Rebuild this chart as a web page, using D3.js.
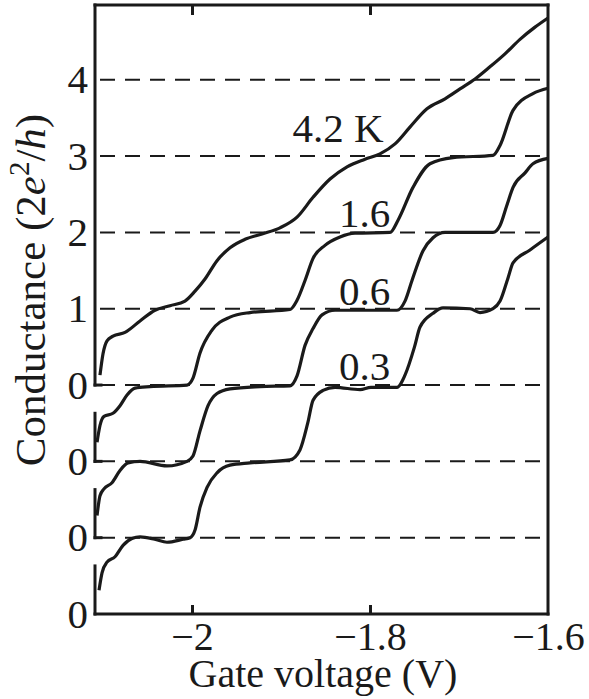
<!DOCTYPE html>
<html>
<head>
<meta charset="utf-8">
<script src="https://cdn.jsdelivr.net/npm/d3@7"></script>
<style>
  html, body { margin: 0; padding: 0; background: #fff; }
  text { font-family: "Liberation Serif", "Times New Roman", serif; fill: #1a1a1a; }
</style>
</head>
<body>
<div id="chart"></div>
<script>
// Conductance quantisation vs gate voltage at four temperatures (curves offset by 1 unit)

// gate voltage (V), conductance (2e^2/h)
const trace03 = [
  [-2.1045, 0.31], [-2.1011, 0.54], [-2.0955, 0.68], [-2.0865, 0.75], [-2.0775, 0.90],
  [-2.0674, 0.99], [-2.0584, 1.01], [-2.0420, 0.98], [-2.0281, 0.94], [-2.0100, 0.98],
  [-2.0022, 1.00], [-1.9966, 1.10], [-1.9910, 1.40], [-1.9831, 1.66], [-1.9719, 1.85],
  [-1.9573, 1.95], [-1.9348, 1.98], [-1.8899, 2.02], [-1.8787, 2.15], [-1.8700, 2.50],
  [-1.8640, 2.80], [-1.8528, 2.93], [-1.8393, 2.97], [-1.8112, 2.94], [-1.7990, 2.97],
  [-1.7697, 2.97], [-1.7607, 3.13], [-1.7500, 3.50], [-1.7438, 3.76], [-1.7292, 3.94],
  [-1.7180, 4.01], [-1.6876, 4.00], [-1.6764, 3.95], [-1.6618, 4.00], [-1.6539, 4.10],
  [-1.6450, 4.40], [-1.6393, 4.60], [-1.6202, 4.77], [-1.6000, 4.94]
];
const trace06 = [
  [-2.1067, 0.29], [-2.1034, 0.55], [-2.0989, 0.64], [-2.0899, 0.72], [-2.0809, 0.88],
  [-2.0719, 0.98], [-2.0584, 1.00], [-2.0281, 0.94], [-2.0056, 1.00], [-1.9989, 1.07],
  [-1.9910, 1.40], [-1.9820, 1.73], [-1.9719, 1.89], [-1.9573, 1.95], [-1.9236, 1.98],
  [-1.8899, 1.99], [-1.8820, 2.12], [-1.8730, 2.52], [-1.8640, 2.74], [-1.8539, 2.92],
  [-1.8393, 2.98], [-1.7697, 2.98], [-1.7607, 3.10], [-1.7528, 3.37], [-1.7404, 3.76],
  [-1.7292, 3.93], [-1.7157, 4.00], [-1.6618, 4.00], [-1.6539, 4.09], [-1.6461, 4.36],
  [-1.6393, 4.59], [-1.6258, 4.78], [-1.6169, 4.90], [-1.6000, 4.97]
];
const trace16 = [
  [-2.1067, 0.25], [-2.1034, 0.47], [-2.0989, 0.59], [-2.0888, 0.63], [-2.0809, 0.73],
  [-2.0730, 0.87], [-2.0640, 0.96], [-2.0472, 0.98], [-2.0056, 1.00], [-1.9989, 1.09],
  [-1.9910, 1.42], [-1.9775, 1.72], [-1.9573, 1.89], [-1.9348, 1.95], [-1.8899, 1.99],
  [-1.8820, 2.11], [-1.8730, 2.37], [-1.8640, 2.66], [-1.8506, 2.83], [-1.8337, 2.94],
  [-1.8169, 2.99], [-1.7775, 3.00], [-1.7685, 3.16], [-1.7517, 3.59], [-1.7326, 3.90],
  [-1.7067, 3.98], [-1.6618, 4.01], [-1.6539, 4.14], [-1.6393, 4.60], [-1.6169, 4.82],
  [-1.6000, 4.89]
];
const trace42 = [
  [-2.1034, 0.13], [-2.1000, 0.41], [-2.0955, 0.58], [-2.0888, 0.64], [-2.0753, 0.69],
  [-2.0584, 0.84], [-2.0416, 0.98], [-2.0247, 1.04], [-2.0079, 1.10], [-1.9966, 1.23],
  [-1.9854, 1.39], [-1.9719, 1.63], [-1.9573, 1.80], [-1.9404, 1.91], [-1.9213, 1.98],
  [-1.9011, 2.06], [-1.8820, 2.20], [-1.8640, 2.46], [-1.8449, 2.70], [-1.8258, 2.86],
  [-1.8056, 2.96], [-1.7888, 3.03], [-1.7719, 3.16], [-1.7551, 3.38], [-1.7360, 3.62],
  [-1.7157, 3.75], [-1.6989, 3.88], [-1.6820, 4.01], [-1.6652, 4.17], [-1.6483, 4.34],
  [-1.6315, 4.53], [-1.6146, 4.69], [-1.6000, 4.81]
];

const traces = [trace03, trace06, trace16, trace42];
const traceOffsets = [0, 1, 2, 3];
const tempLabels = ['0.3', '0.6', '1.6', '4.2 K'];
const tempLabelAt = [[-1.806, 3.07], [-1.806, 3.05], [-1.806, 3.07], [-1.836, 3.19]];

const xTickValues = [-2, -1.8, -1.6];
const xTickLabels = ['\u22122', '\u22121.8', '\u22121.6'];
const yTickValues = [0, 1, 2, 3, 4, 5, 6, 7];
const yTickLabels = ['0', '0', '0', '0', '1', '2', '3', '4'];
const gridValues = [1, 2, 3, 4, 5, 6, 7];

const W = 589, H = 699;
const margin = { top: 5, right: 41, bottom: 85, left: 95 };
const width = W - margin.left - margin.right;
const height = H - margin.top - margin.bottom;

const svgOuter = d3.select('#chart').append('svg')
  .attr('width', W).attr('height', H)
  .attr('viewBox', `0 0 ${W} ${H}`);

svgOuter.append('rect').attr('width', W).attr('height', H).attr('fill', '#fff');

const svg = svgOuter.append('g')
  .attr('transform', `translate(${margin.left},${margin.top})`);

const x = d3.scaleLinear().domain([-2.109, -1.6]).range([0, width]);
const y = d3.scaleLinear().domain([0, 7.98]).range([height, 0]);

const ink = '#1a1a1a';

// dashed reference lines
svg.append('g')
  .selectAll('line')
  .data(gridValues)
  .join('line')
  .attr('x1', 5).attr('x2', width)
  .attr('y1', d => y(d)).attr('y2', d => y(d))
  .attr('stroke', ink)
  .attr('stroke-width', 2)
  .attr('stroke-dasharray', '15,10');

// curves
const line = d3.line().curve(d3.curveMonotoneX);
svg.append('g')
  .selectAll('path')
  .data(traces)
  .join('path')
  .attr('d', (t, i) => line.x(d => x(d[0])).y(d => y(d[1] + traceOffsets[i]))(t))
  .attr('fill', 'none')
  .attr('stroke', ink)
  .attr('stroke-width', 3.2)
  .attr('stroke-linejoin', 'round');

// temperature labels
svg.append('g')
  .selectAll('text')
  .data(tempLabels)
  .join('text')
  .attr('x', (d, i) => x(tempLabelAt[i][0]))
  .attr('y', (d, i) => y(tempLabelAt[i][1] + traceOffsets[i]))
  .attr('text-anchor', 'middle')
  .attr('font-size', 41)
  .text(d => d);

// frame: top, right, bottom full; left broken at each offset
const frame = svg.append('g')
  .attr('stroke', ink).attr('stroke-width', 3).attr('stroke-linecap', 'square');
frame.append('line').attr('x1', 0).attr('x2', width).attr('y1', 0).attr('y2', 0);
frame.append('line').attr('x1', width).attr('x2', width).attr('y1', 0).attr('y2', height);
frame.append('line').attr('x1', 0).attr('x2', width).attr('y1', height).attr('y2', height);
const breakTop = 0.63;
const leftSegments = traceOffsets.map((o, i) =>
  [o, i === traceOffsets.length - 1 ? y.domain()[1] : o + breakTop]);
frame.selectAll('.seg')
  .data(leftSegments)
  .join('line')
  .attr('class', 'seg')
  .attr('x1', 0).attr('x2', 0)
  .attr('y1', d => y(d[0])).attr('y2', d => y(d[1]));
// short foot of each segment
frame.selectAll('.foot')
  .data(traceOffsets.slice(1))
  .join('line')
  .attr('class', 'foot')
  .attr('x1', 0).attr('x2', 6)
  .attr('y1', d => y(d)).attr('y2', d => y(d));

// x axis (labels + inward ticks)
const xAxis = svg.append('g')
  .attr('transform', `translate(0,${height})`)
  .call(d3.axisBottom(x).tickValues(xTickValues).tickSizeInner(-9).tickSizeOuter(0).tickPadding(8)
    .tickFormat((d, i) => xTickLabels[i]));
xAxis.select('.domain').remove();
xAxis.selectAll('.tick line').attr('stroke', ink).attr('stroke-width', 3)
  .filter(d => d === -1.6).remove();
xAxis.selectAll('.tick text').attr('font-size', 40).attr('fill', ink);

const xTop = svg.append('g')
  .call(d3.axisTop(x).tickValues(xTickValues.filter(v => v !== -1.6)).tickSizeInner(-10).tickSizeOuter(0).tickFormat(''));
xTop.select('.domain').remove();
xTop.selectAll('.tick line').attr('stroke', ink).attr('stroke-width', 3);

// y axis labels
const yAxis = svg.append('g')
  .call(d3.axisLeft(y).tickValues(yTickValues).tickSize(0).tickPadding(7)
    .tickFormat((d, i) => yTickLabels[i]));
yAxis.select('.domain').remove();
yAxis.selectAll('.tick text').attr('font-size', 41).attr('fill', ink);

// axis titles
svgOuter.append('text')
  .attr('x', 323).attr('y', 687)
  .attr('text-anchor', 'middle')
  .attr('font-size', 40)
  .text('Gate voltage (V)');

const yTitle = svgOuter.append('text')
  .attr('transform', 'translate(45,290) rotate(-90)')
  .attr('text-anchor', 'middle')
  .attr('font-size', 43);
yTitle.append('tspan').text('Conductance (2');
yTitle.append('tspan').attr('font-style', 'italic').text('e');
yTitle.append('tspan').attr('font-size', 29).attr('dy', -16).text('2');
yTitle.append('tspan').attr('dy', 16).text('/');
yTitle.append('tspan').attr('font-style', 'italic').text('h');
yTitle.append('tspan').text(')');
</script>
</body>
</html>
